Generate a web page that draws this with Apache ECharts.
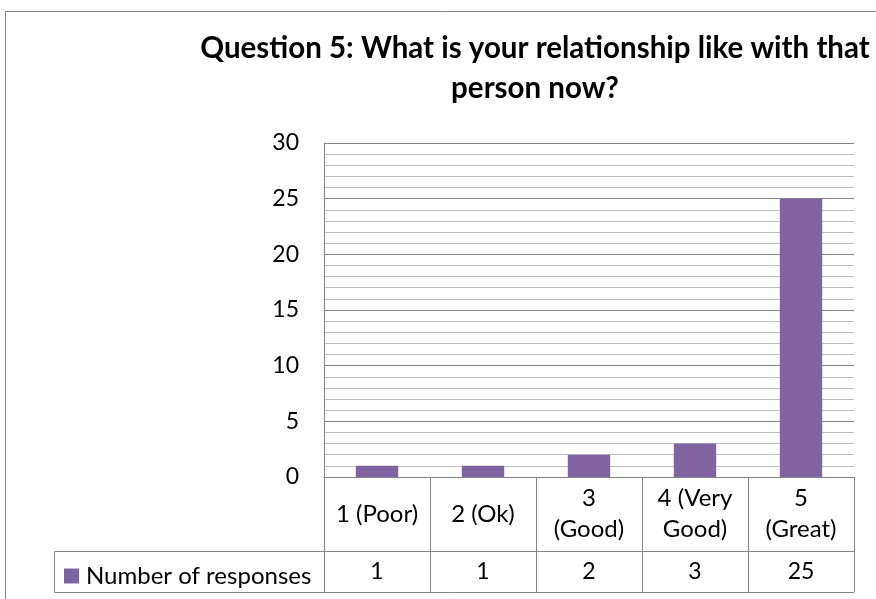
<!DOCTYPE html>
<html>
<head>
<meta charset="utf-8">
<script src="https://cdn.jsdelivr.net/npm/echarts@6/dist/echarts.min.js"></script>
<style>html,body{margin:0;padding:0;background:#fff}#c{width:876px;height:599px}</style>
</head>
<body>
<div id="c"></div>
<script>
const titleText = 'Question 5: What is your relationship like with that\nperson now?';
const categories = ['1 (Poor)', '2 (Ok)', '3\n(Good)', '4 (Very\nGood)', '5\n(Great)'];
const seriesName = 'Number of responses';
const values = [1, 1, 2, 3, 25];
const yMin = 0, yMax = 30, yStep = 5;

const FONT = 'Lato';
const gridL = 324, gridR = 22, gridT = 143, gridB = 122;
const W = 876, H = 599;
const catRowH = 74, valRowH = 41, tableLeft = 54;
const lineColor = '#868686';

const chart = echarts.init(document.getElementById('c'), null, {renderer: 'canvas'});
const axisY = H - gridB;
const option = {
  animation: false,
  backgroundColor: '#fff',
  title: {
    text: titleText,
    left: 530, top: 23,
    textAlign: 'center',
    textStyle: {fontFamily: FONT, fontWeight: 'bold', fontSize: 29.5, lineHeight: 40, color: '#000'}
  },
  legend: {
    data: [seriesName],
    left: tableLeft + 10, top: axisY + catRowH + 13, padding: 0,
    icon: 'rect', itemWidth: 15, itemHeight: 15, itemGap: 0,
    textStyle: {fontFamily: FONT, fontSize: 24, color: '#000', padding: [0, 0, 0, 2]}
  },
  grid: {left: gridL, right: gridR, top: gridT, bottom: gridB, containLabel: false},
  xAxis: [{
    type: 'category', data: categories,
    axisLine: {show: true, lineStyle: {color: lineColor, width: 1}},
    axisTick: {show: true, length: catRowH + valRowH, interval: 0, lineStyle: {color: lineColor, width: 1}},
    axisLabel: {interval: 0, fontFamily: FONT, fontSize: 24, lineHeight: 31, color: '#000', verticalAlign: 'middle', margin: 37}
  }, {
    type: 'category', data: categories, position: 'bottom', offset: catRowH,
    axisLine: {show: true, lineStyle: {color: lineColor, width: 1}},
    axisTick: {show: false},
    axisLabel: {interval: 0, fontFamily: FONT, fontSize: 23, color: '#000', verticalAlign: 'middle', margin: 21,
      formatter: function (v, i) { return String(values[i]); }}
  }],
  yAxis: {
    type: 'value', min: yMin, max: yMax, interval: yStep,
    axisLine: {show: true, lineStyle: {color: lineColor, width: 1}},
    axisTick: {show: false},
    axisLabel: {fontFamily: FONT, fontSize: 23, color: '#000', margin: 25},
    splitLine: {show: true, lineStyle: {color: lineColor, width: 1}},
    minorTick: {show: false, splitNumber: 5},
    minorSplitLine: {show: true, lineStyle: {color: '#BFBFBF', width: 1}}
  },
  series: [{
    name: seriesName, type: 'bar', data: values, barWidth: '40%',
    itemStyle: {color: '#8064A2'}
  }],
  graphic: [
    {type: 'rect', silent: true, shape: {x: 5.5, y: 11.5, width: 1000, height: 1000}, style: {fill: 'none', stroke: lineColor, lineWidth: 1}},
    {type: 'polyline', silent: true, shape: {points: [[gridL, axisY + catRowH + 0.5], [tableLeft + 0.5, axisY + catRowH + 0.5], [tableLeft + 0.5, axisY + catRowH + valRowH + 0.5], [W - gridR, axisY + catRowH + valRowH + 0.5]]}, style: {fill: 'none', stroke: lineColor, lineWidth: 1}}
  ]
};
chart.setOption(option);
</script>
</body>
</html>
